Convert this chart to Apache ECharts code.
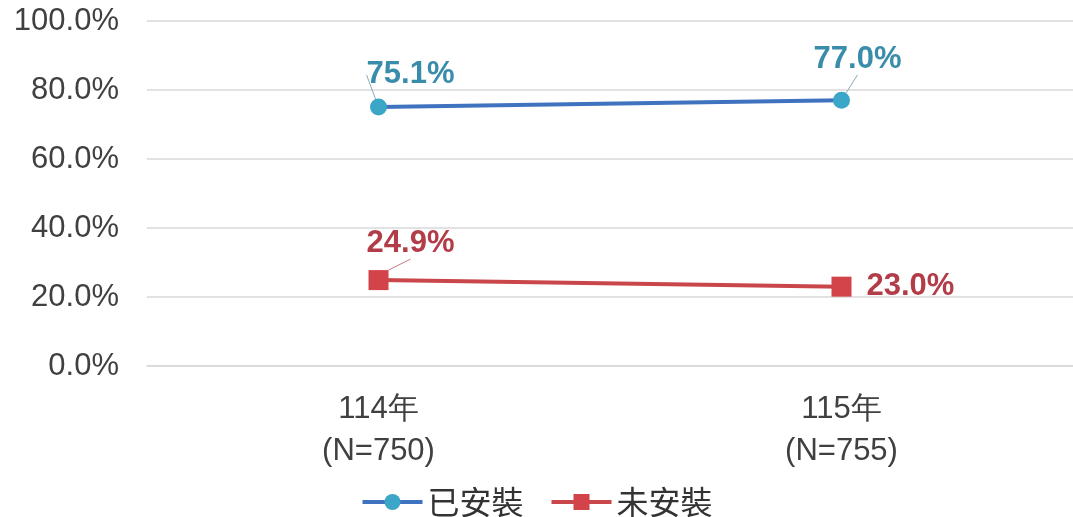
<!DOCTYPE html>
<html><head><meta charset="utf-8">
<script src="https://cdn.jsdelivr.net/npm/echarts@6/dist/echarts.min.js"></script>
<style>html,body{margin:0;padding:0;background:#fff}#c{width:1073px;height:517px}</style>
</head><body><div id="c"></div>
<script>
const categories = ['114年\n(N=750)', '115年\n(N=755)'];
const seriesNames = ['已安裝', '未安裝'];
const installed = [75.1, 77.0];
const notInstalled = [24.9, 23.0];
const yTicks = [0, 20, 40, 60, 80, 100];

const chart = echarts.init(document.getElementById('c'));
const font = '"Liberation Sans", Arial, sans-serif';
const blueOff = [[32, -3], [16, -12]];
const redOff = [[32, -6], [0, 0]];
chart.setOption({
  animation: false,
  grid: { left: 147, right: 0, top: 21, bottom: 151 },
  legend: {
    top: 481, left: 'center', itemWidth: 60, itemHeight: 20, itemGap: 26,
    textStyle: { fontSize: 32, color: '#333', fontFamily: '"Noto Sans CJK TC", sans-serif' },
    data: [
      { name: seriesNames[0], lineStyle: { width: 4 } },
      { name: seriesNames[1], lineStyle: { width: 4 } }
    ]
  },
  xAxis: {
    type: 'category', data: categories, boundaryGap: true,
    axisLine: { lineStyle: { color: '#d9d9d9', width: 1.5 } },
    axisTick: { show: false },
    axisLabel: { fontSize: 31, color: '#404040', lineHeight: 42, margin: 22, fontFamily: font }
  },
  yAxis: {
    type: 'value', min: yTicks[0], max: yTicks[yTicks.length - 1], interval: 20,
    axisLine: { show: false }, axisTick: { show: false },
    splitLine: { lineStyle: { color: '#d9d9d9', width: 1.5 } },
    axisLabel: { fontSize: 31, color: '#404040', margin: 28, fontFamily: font,
      formatter: v => v.toFixed(1) + '%' }
  },
  series: [
    {
      name: seriesNames[0], type: 'line', data: installed,
      symbol: 'circle', symbolSize: 17,
      lineStyle: { color: '#3f73c0', width: 4 },
      itemStyle: { color: '#3ba6c7' },
      label: { show: true, position: 'top', fontSize: 31, fontWeight: 'bold', color: '#3a8cab',
        fontFamily: font, formatter: p => p.value.toFixed(1) + '%' },
      labelLine: { show: true, lineStyle: { color: '#8aa9b8', width: 1 } },
      labelLayout: p => ({ dx: blueOff[p.dataIndex][0], dy: blueOff[p.dataIndex][1] })
    },
    {
      name: seriesNames[1], type: 'line',
      symbol: 'rect', symbolSize: 20,
      lineStyle: { color: '#c9474a', width: 4 },
      itemStyle: { color: '#d3434a' },
      label: { show: true, position: 'top', fontSize: 31, fontWeight: 'bold', color: '#b23c47',
        fontFamily: font, formatter: p => p.value.toFixed(1) + '%' },
      labelLine: { show: true, lineStyle: { color: '#c07a80', width: 1 } },
      labelLayout: p => ({ dx: redOff[p.dataIndex][0], dy: redOff[p.dataIndex][1] }),
      data: notInstalled.map((v, i) => i === 1
        ? { value: v, label: { position: 'right', distance: 15 }, labelLine: { show: false } }
        : v)
    }
  ]
});
</script></body></html>
